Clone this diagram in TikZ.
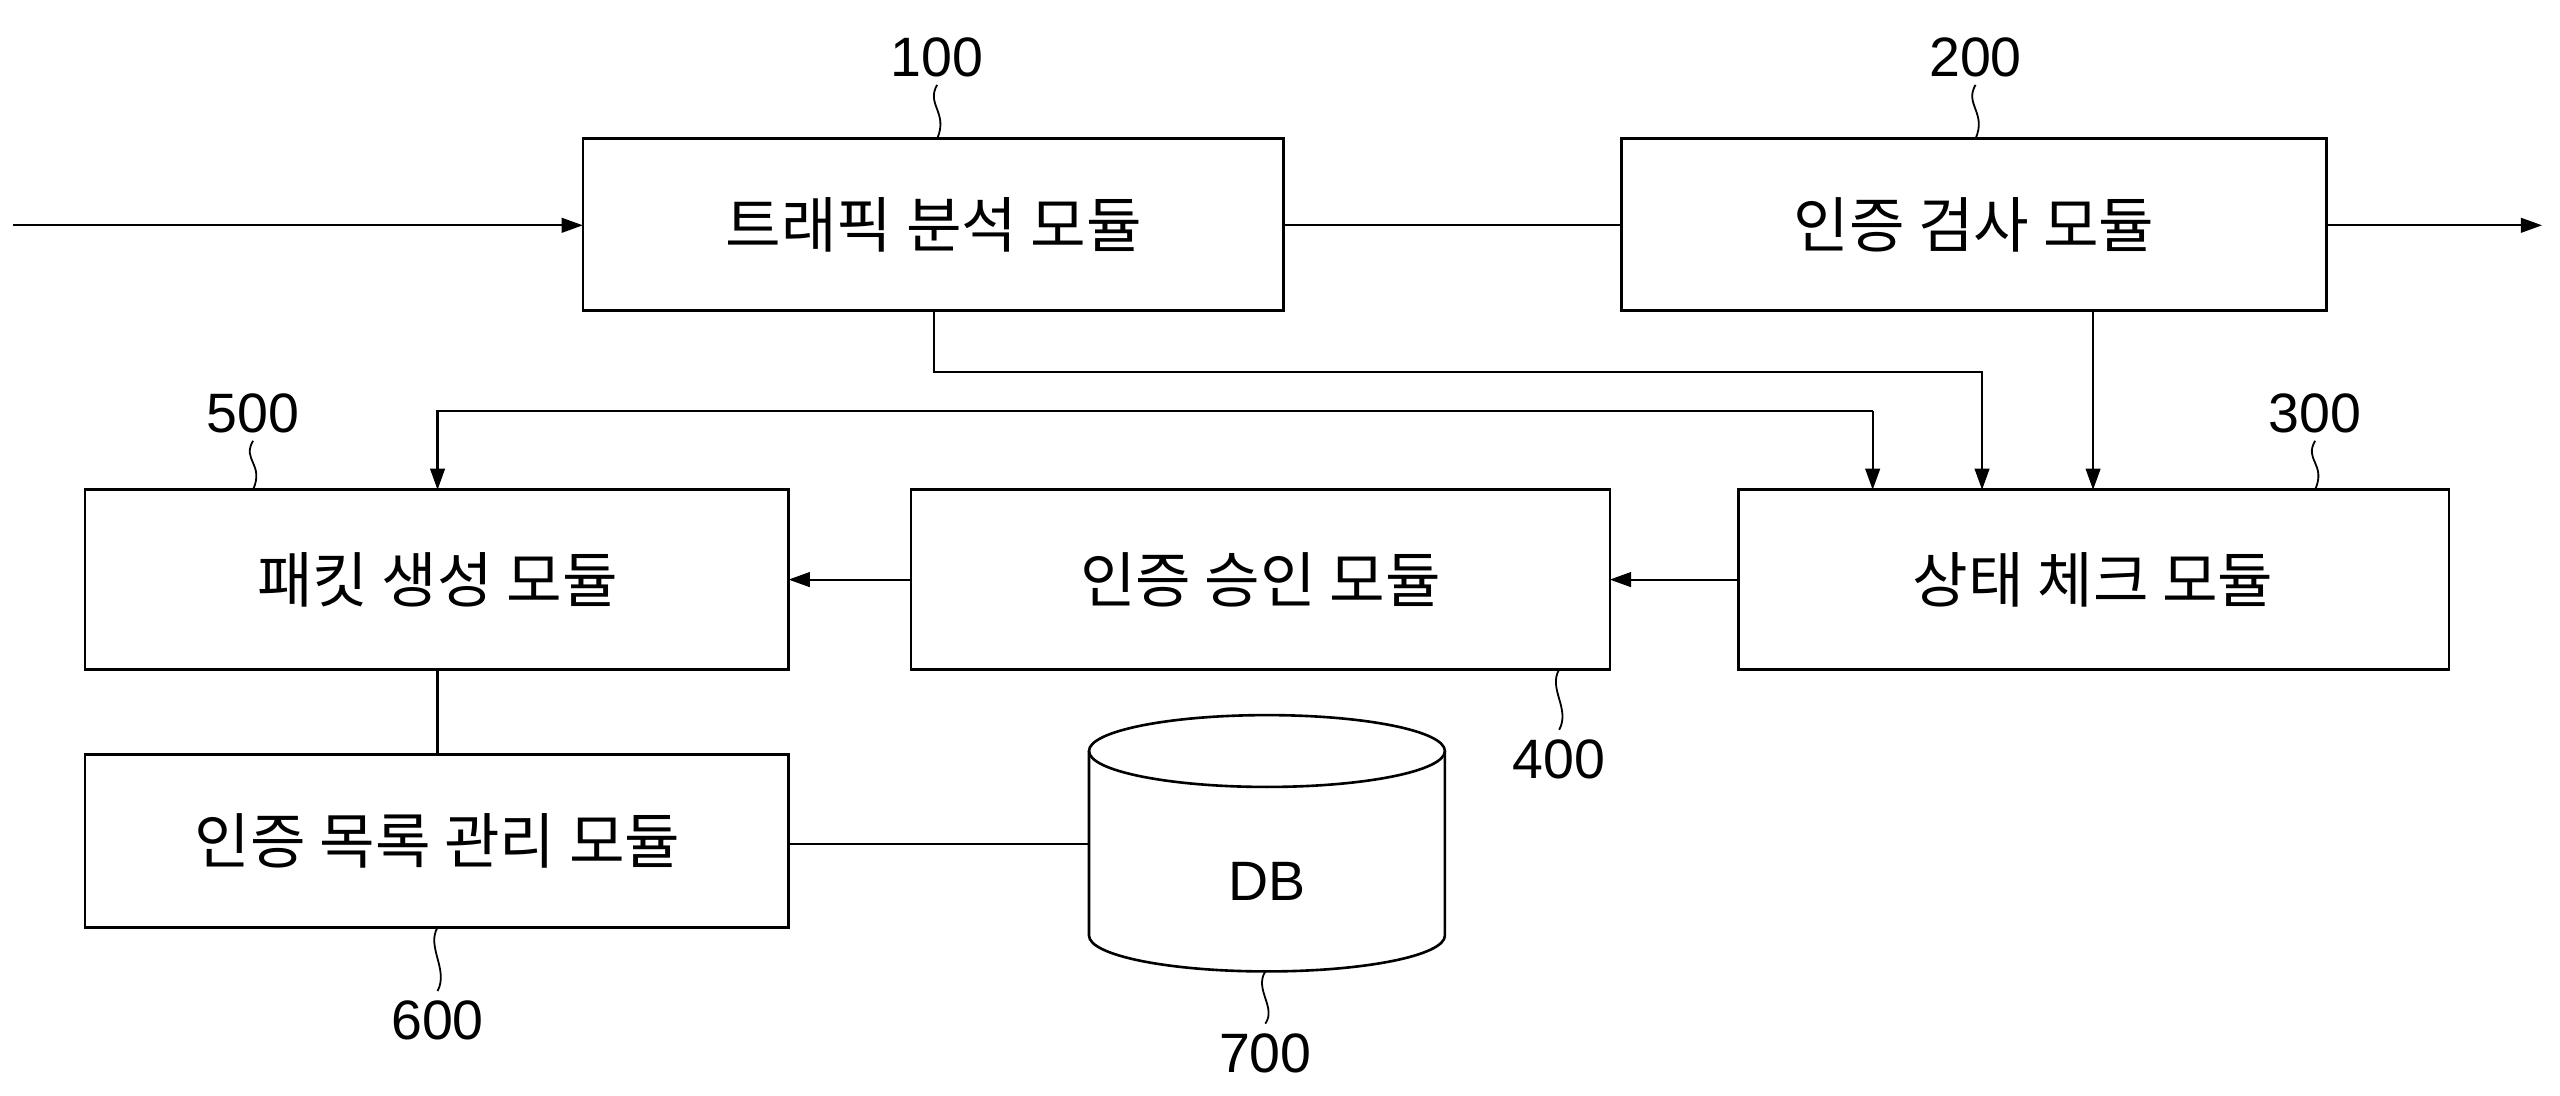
\documentclass[tikz,border=0pt]{standalone}
\usepackage{fontspec}
\setmainfont{Liberation Sans}
\newfontfamily\cjk{Noto Sans CJK KR}
\usetikzlibrary{arrows.meta,shapes.geometric}
\begin{document}
\begin{tikzpicture}[x=1pt,y=-1pt,
 mod/.style={font=\cjk\fontsize{37}{40}\selectfont},
 ln/.style={line width=1.3pt},
 bx/.style={line width=1.6pt},
 arr/.style={ln,-{Triangle[length=13pt,width=9pt]}},
 num/.style={font=\fontsize{34}{38}\selectfont},
 sq/.style={line width=1.1pt}]
\useasboundingbox (0,0) rectangle (1568,671);
\draw[bx] (357,85) rectangle (786,190); \node[mod] (m100) at (572,138) {트래픽 분석 모듈};
\draw[bx] (993,85) rectangle (1425,190); \node[mod] (m200) at (1209,138) {인증 검사 모듈};
\draw[bx] (52,300) rectangle (483,410); \node[mod] (m500) at (268,355) {패킷 생성 모듈};
\draw[bx] (558,300) rectangle (986,410); \node[mod] (m400) at (772,355) {인증 승인 모듈};
\draw[bx] (1065,300) rectangle (1500,410); \node[mod] (m300) at (1282,355) {상태 체크 모듈};
\draw[bx] (52,462) rectangle (483,568); \node[mod] (m600) at (268,515) {인증 목록 관리 모듈};
% DB
\draw[bx] (667,460) -- (667,573) arc[start angle=180,end angle=0,x radius=109,y radius=22] -- (885,460);
\draw[bx] (776,460) ellipse[x radius=109,y radius=22];
\node[font=\fontsize{34}{38}\selectfont] (db) at (776,540) {DB};
% connectors
\coordinate (in) at (8,138);
\draw[arr] (in) -- (357,138);
\draw[ln] (786,138) -- (993,138);
\draw[arr] (1425,138) -- (1557,138);
\draw[arr] (572,190) -- (572,228) -- (1214,228) -- (1214,300);
\draw[arr] (1282,190) -- (1282,300);
\draw[arr] (1147,252) -- (268,252) -- (268,300);
\draw[arr] (1147,252) -- (1147,300);
\draw[arr] (1065,355) -- (986,355);
\draw[arr] (558,355) -- (483,355);
\draw[ln] (268,410) -- (268,462);
\draw[ln] (483,517) -- (667,517);
% labels
\node[num] (n100) at (574,35) {100};
\node[num] (n200) at (1210,35) {200};
\node[num] (n500) at (155,253) {500};
\node[num] (n300) at (1418,253) {300};
\node[num] (n400) at (955,465) {400};
\node[num] (n600) at (268,625) {600};
\node[num] (n700) at (775,645) {700};
\foreach \x/\a/\b in {574/52/85,1210/52/85,155/270/300,1418/270/300}
  \draw[sq] (\x,\a) .. controls (\x-7,\a+12) and (\x+7,\b-16) .. (\x,\b);
\draw[sq] (955,410) .. controls (948,422) and (962,434) .. (955,447);
\draw[sq] (268,568) .. controls (261,580) and (275,594) .. (268,607);
\draw[sq] (775,595) .. controls (768,606) and (782,617) .. (775,627);
\end{tikzpicture}
\end{document}
